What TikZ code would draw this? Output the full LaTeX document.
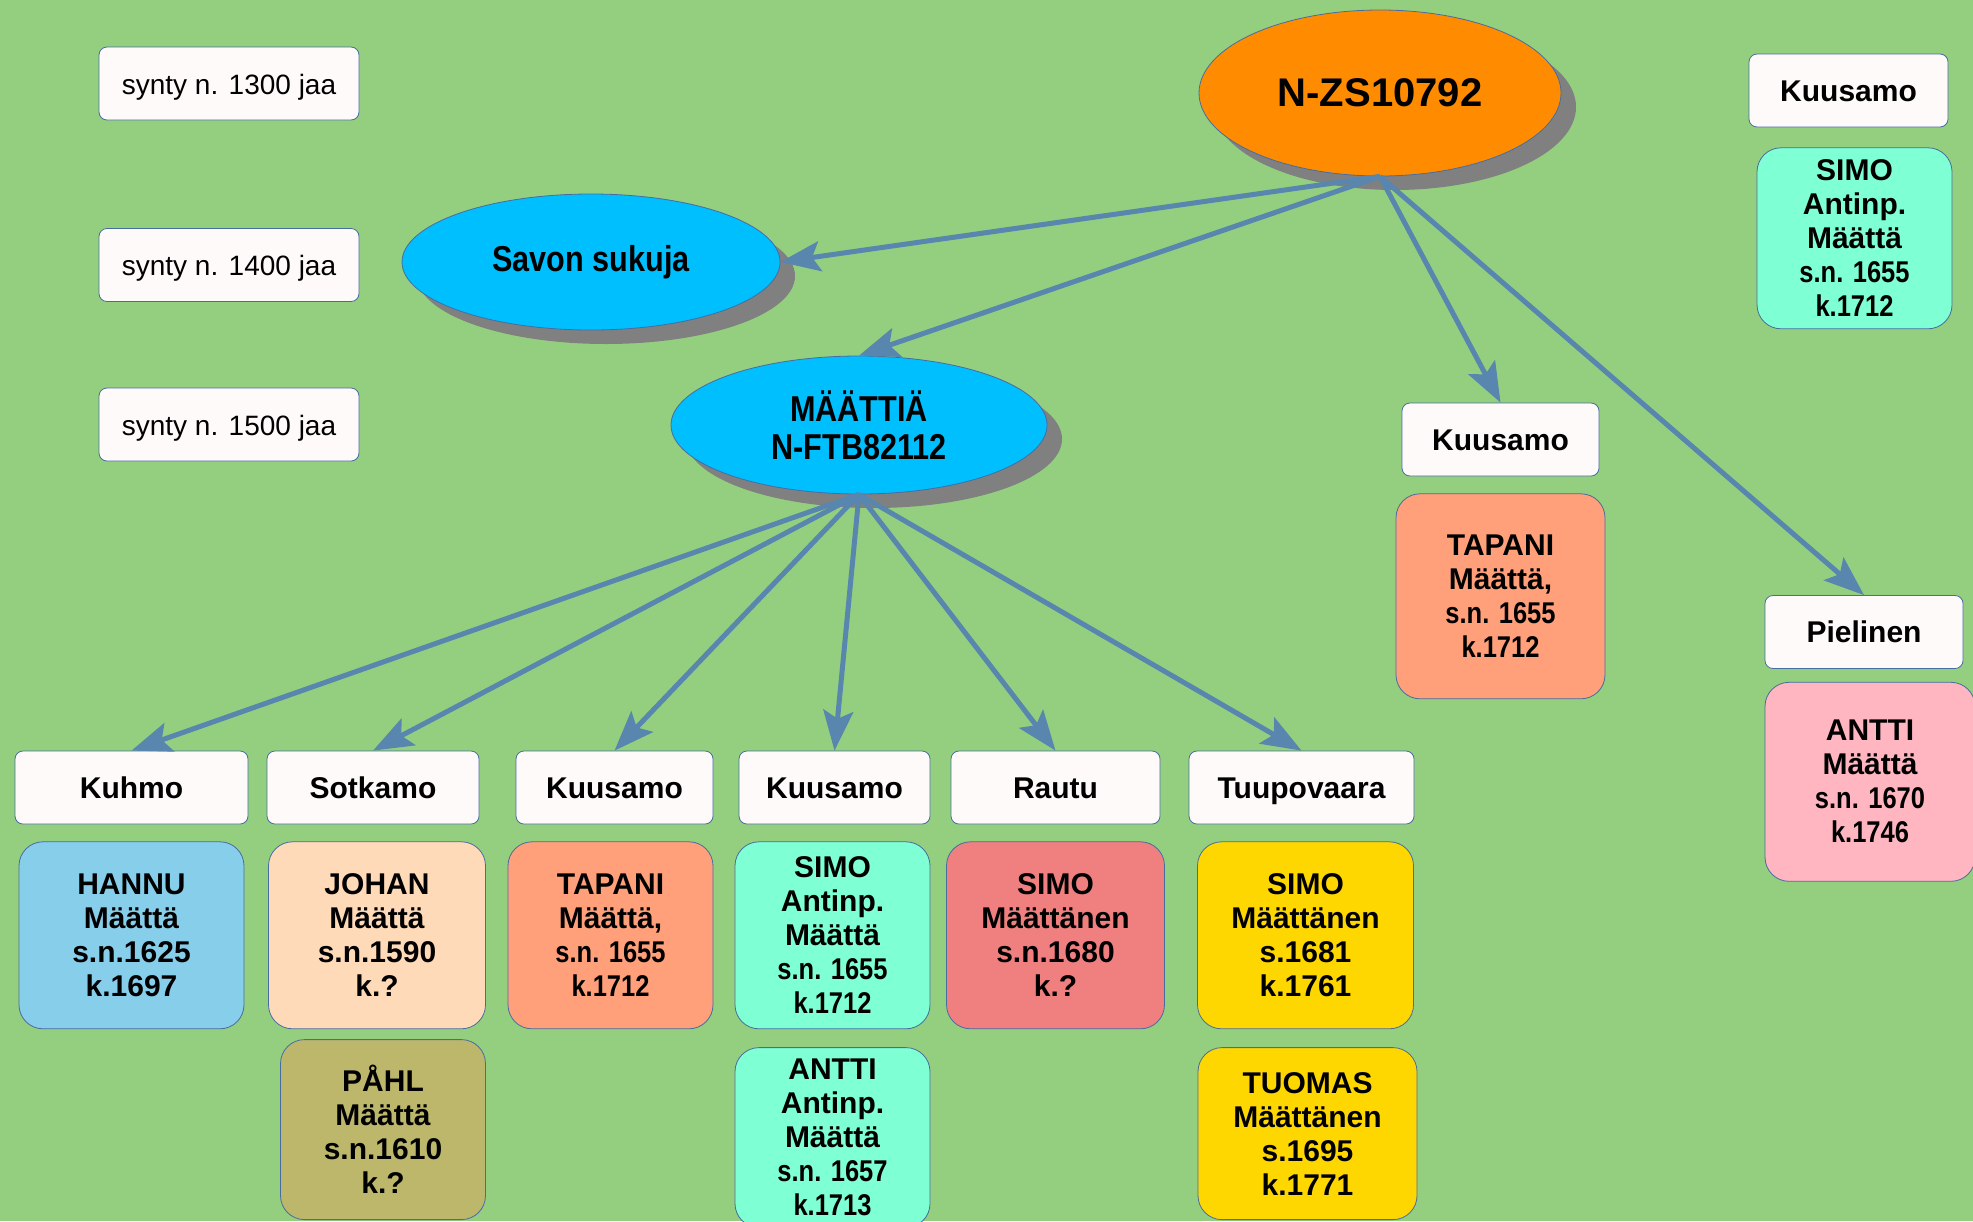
\documentclass[tikz,border=0pt]{standalone}
\usepackage{fontspec}
\setmainfont{Liberation Sans}
\newfontfamily\narrowfont[FakeStretch=0.85]{Liberation Sans}
\usetikzlibrary{positioning,shapes.geometric,shadows,arrows.meta}
\definecolor{bggreen}{RGB}{148,207,127}
\definecolor{linkblue}{RGB}{88,134,174}
\definecolor{edgeblue}{RGB}{72,108,160}
\definecolor{rootorange}{RGB}{255,140,0}
\definecolor{clanblue}{RGB}{0,191,255}
\definecolor{boxwhite}{RGB}{255,250,250}
\definecolor{hannucol}{RGB}{135,206,235}
\definecolor{johancol}{RGB}{255,218,185}
\definecolor{tapanicol}{RGB}{255,160,122}
\definecolor{antinpcol}{RGB}{127,255,212}
\definecolor{rautucol}{RGB}{240,128,128}
\definecolor{tuupocol}{RGB}{255,215,0}
\definecolor{pahlcol}{RGB}{189,183,107}
\definecolor{pielcol}{RGB}{255,182,193}

\begin{document}
\begin{tikzpicture}[x=0.5pt, y=-0.5pt,
  placebox/.style={rectangle, draw=edgeblue, fill=boxwhite, rounded corners=4pt, minimum height=36.5pt, text height=11pt, text depth=0.5pt, font=\bfseries\fontsize{15}{17}\selectfont},
  erabox/.style={placebox, minimum width=130pt, font=\fontsize{14}{16}\selectfont},
  person/.style={rectangle, draw=edgeblue, rounded corners=12pt, align=center, inner sep=2pt, font=\bfseries\fontsize{15}{17}\selectfont},
  clan/.style={ellipse, draw=edgeblue, fill=clanblue, align=center, inner sep=0pt, drop shadow={shadow xshift=7.5pt, shadow yshift=-7pt, fill=gray, opacity=1}, font=\narrowfont\bfseries\fontsize{18}{19}\selectfont},
  link/.style={draw=linkblue, line width=2.5pt, -{Stealth[length=20pt, width=15pt, inset=4pt]}}
]
\fill [bggreen] (0,0) rectangle (1973,1221);
\useasboundingbox (0,0) rectangle (1973,1221);

\node [erabox] (y1300) at (229,83.5) {synty n. 1300 jaa};
\node [erabox] (y1400) at (229,265) {synty n. 1400 jaa};
\node [erabox] (y1500) at (229,424.5) {synty n. 1500 jaa};

\node [clan, fill=rootorange, minimum width=181pt, minimum height=83pt, font=\bfseries\fontsize{20}{22}\selectfont] (root) at (1380,93) {N-ZS10792};
\node [clan, minimum width=189pt, minimum height=68pt] (savon) at (591,262) {Savon sukuja};
\node [clan, minimum width=188pt, minimum height=69pt] (maat) at (859,425) {MÄÄTTIÄ\\N-FTB82112};

\node [placebox, minimum width=99.5pt] (kuuA) at (1848.5,90.5) {Kuusamo};
\node [person, fill=antinpcol, minimum width=97.5pt, minimum height=90.5pt, below=10pt of kuuA, xshift=3pt] (simoA) {SIMO\\Antinp.\\Määttä\\{\narrowfont s.n. 1655}\\{\narrowfont k.1712}};
\node [placebox, minimum width=98.5pt] (kuuB) at (1500.5,439.5) {Kuusamo};
\node [person, fill=tapanicol, minimum width=104.5pt, minimum height=102.5pt, below=8.5pt of kuuB] (tapB) {TAPANI\\Määttä,\\{\narrowfont s.n. 1655}\\{\narrowfont k.1712}};
\node [placebox, minimum width=99pt] (piel) at (1864,632) {Pielinen};
\node [person, fill=pielcol, minimum width=105pt, minimum height=99.5pt, below=6.5pt of piel, xshift=3pt] (anttiP) {ANTTI\\Määttä\\{\narrowfont s.n. 1670}\\{\narrowfont k.1746}};

\node [placebox, minimum width=116.5pt] (kuhmo) at (131.5,787.5) {Kuhmo};
\node [placebox, minimum width=106pt] (sotkamo) at (373,787.5) {Sotkamo};
\node [placebox, minimum width=98.5pt] (kuuC) at (614.5,787.5) {Kuusamo};
\node [placebox, minimum width=95.5pt] (kuuD) at (834.5,787.5) {Kuusamo};
\node [placebox, minimum width=104.5pt] (rautu) at (1055.5,787.5) {Rautu};
\node [placebox, minimum width=112.5pt] (tuupo) at (1301.5,787.5) {Tuupovaara};

\node [person, fill=hannucol, minimum width=112.5pt, minimum height=93.5pt, below=8.5pt of kuhmo] (hannu) {HANNU\\Määttä\\s.n.1625\\k.1697};
\node [person, fill=johancol, minimum width=108.5pt, minimum height=93.5pt, below=8.5pt of sotkamo, xshift=2pt] (johan) {JOHAN\\Määttä\\s.n.1590\\k.?};
\node [person, fill=tapanicol, minimum width=102.5pt, minimum height=93.5pt, below=8.5pt of kuuC, xshift=-2pt] (tapC) {TAPANI\\Määttä,\\{\narrowfont s.n. 1655}\\{\narrowfont k.1712}};
\node [person, fill=antinpcol, minimum width=97.5pt, minimum height=93.5pt, below=8.5pt of kuuD, xshift=-1pt] (simoD) {SIMO\\Antinp.\\Määttä\\{\narrowfont s.n. 1655}\\{\narrowfont k.1712}};
\node [person, fill=rautucol, minimum width=109pt, minimum height=93.5pt, below=8.5pt of rautu] (simoR) {SIMO\\Määttänen\\s.n.1680\\k.?};
\node [person, fill=tuupocol, minimum width=108pt, minimum height=93.5pt, below=8.5pt of tuupo, xshift=2pt] (simoT) {SIMO\\Määttänen\\s.1681\\k.1761};

\node [person, fill=pahlcol, minimum width=102.5pt, minimum height=90pt, below=5pt of johan, xshift=3pt] (pahl) {PÅHL\\Määttä\\s.n.1610\\k.?};
\node [person, fill=antinpcol, minimum width=97.5pt, minimum height=90pt, below=9pt of simoD] (anttiD) {ANTTI\\Antinp.\\Määttä\\{\narrowfont s.n. 1657}\\{\narrowfont k.1713}};
\node [person, fill=tuupocol, minimum width=109.5pt, minimum height=86pt, below=9pt of simoT, xshift=1pt] (tuomas) {TUOMAS\\Määttänen\\s.1695\\k.1771};

\draw [link] (root.south) -- (savon.east);
\draw [link] (root.south) -- (maat.north);
\draw [link] (root.south) -- (kuuB.north);
\draw [link] (root.south) -- (piel.north);
\draw [link] (maat.south) -- (kuhmo.north);
\draw [link] (maat.south) -- (sotkamo.north);
\draw [link] (maat.south) -- (kuuC.north);
\draw [link] (maat.south) -- (kuuD.north);
\draw [link] (maat.south) -- (rautu.north);
\draw [link] (maat.south) -- (tuupo.north);
\end{tikzpicture}
\end{document}
